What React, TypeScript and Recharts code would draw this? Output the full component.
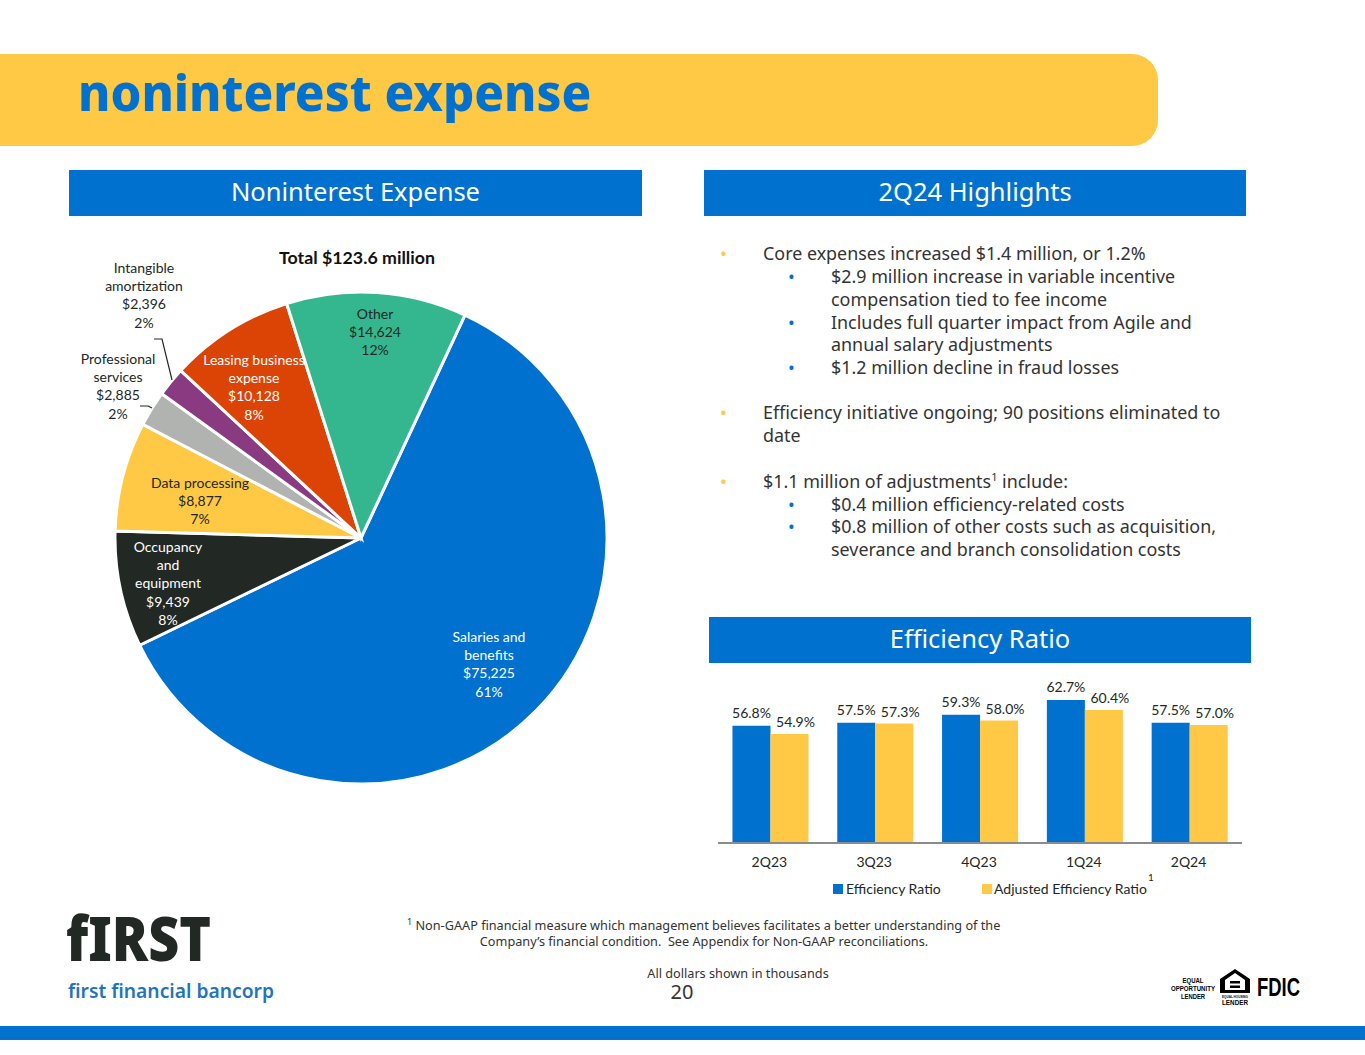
import { BarChart, Bar, XAxis, YAxis, Legend, LabelList, PieChart, Pie, Cell } from 'recharts';

const BLUE = '#0071ce';
const GOLD = '#ffc845';
const INK = '#222823';
const HEAD_FONT = '"Noto Sans", sans-serif';
const CHART_FONT = 'Lato, sans-serif';

// pie data, clockwise from the top right
const expenseNames = [
  'Salaries and\nbenefits',
  'Occupancy\nand\nequipment',
  'Data processing',
  'Professional\nservices',
  'Intangible\namortization',
  'Leasing business\nexpense',
  'Other',
];
const expenseValues = [75225, 9439, 8877, 2885, 2396, 10128, 14624];
const expenseColors = [BLUE, INK, GOLD, '#b1b3b1', '#8a3a80', '#dc4405', '#34b78f'];
const expenseTextColors = ['#fff', '#fff', INK, INK, INK, '#fff', INK];

// where each label block sits, relative to the pie centre
const labelSpots = [
  [128, 98], [-193, 8], [-161, -56], [-243, -180], [-217, -271], [-107, -179], [14, -225],
];
const leaderLines: Record<number, number[][]> = {
  3: [[-221, -132], [-213, -132], [-209, -130]],
  4: [[-207, -199], [-199, -199], [-189, -158]],
};

// bar data
const quarters = ['2Q23', '3Q23', '4Q23', '1Q24', '2Q24'];
const efficiencyRatio = [56.8, 57.5, 59.3, 62.7, 57.5];
const adjustedRatio = [54.9, 57.3, 58.0, 60.4, 57.0];

const pieData = expenseNames.map((name, i) => ({ name, value: expenseValues[i] }));
const barData = quarters.map((quarter, i) => ({
  quarter,
  efficiency: efficiencyRatio[i],
  adjusted: adjustedRatio[i],
}));
const expenseTotal = expenseValues.reduce((a, b) => a + b, 0);

// text of the highlights panel: level 0 = gold bullet, 1 = blue bullet, 2 = continuation
const highlights: [number, string, number][] = [
  [0, 'Core expenses increased $1.4 million, or 1.2%', 253],
  [1, '$2.9 million increase in variable incentive', 276],
  [2, 'compensation tied to fee income', 299],
  [1, 'Includes full quarter impact from Agile and', 322],
  [2, 'annual salary adjustments', 344],
  [1, '$1.2 million decline in fraud losses', 367],
  [0, 'Efficiency initiative ongoing; 90 positions eliminated to', 412],
  [3, 'date', 435],
  [0, 'SUP', 481],
  [1, '$0.4 million efficiency-related costs', 504],
  [1, '$0.8 million of other costs such as acquisition,', 526],
  [2, 'severance and branch consolidation costs', 549],
];

const PieLabel = (props: any) => {
  const { cx, cy, index } = props;
  const [dx, dy] = labelSpots[index];
  const value = expenseValues[index];
  const lines = [
    ...expenseNames[index].split('\n'),
    '$' + value.toLocaleString('en-US'),
    Math.round((value / expenseTotal) * 100) + '%',
  ];
  const leader = leaderLines[index];
  return (
    <g>
      {leader && (
        <polyline
          points={leader.map(([x, y]) => `${cx + x},${cy + y}`).join(' ')}
          fill="none"
          stroke={INK}
          strokeWidth={1.2}
        />
      )}
      <text x={cx + dx} y={cy + dy} textAnchor="middle" fontFamily={CHART_FONT} fontSize={14} fill={expenseTextColors[index]}>
        {lines.map((line, i) => (
          <tspan key={i} x={cx + dx} y={cy + dy + i * 18.45} dominantBaseline="central">
            {line}
          </tspan>
        ))}
      </text>
    </g>
  );
};

const BarLegend = () => (
  <div style={{ fontFamily: CHART_FONT, fontSize: 14, color: INK, position: 'relative', height: 27 }}>
    <span style={{ position: 'absolute', left: 115, top: 11, width: 10, height: 10, background: BLUE }} />
    <span style={{ position: 'absolute', left: 128, top: 7 }}>Efficiency Ratio</span>
    <span style={{ position: 'absolute', left: 264, top: 11, width: 10, height: 10, background: GOLD }} />
    <span style={{ position: 'absolute', left: 276, top: 7 }}>Adjusted Efficiency Ratio</span>
    <span style={{ position: 'absolute', left: 430, top: -2, fontSize: 10 }}>1</span>
  </div>
);

const SectionHeader = ({ label, left, top, width }: { label: string; left: number; top: number; width: number }) => (
  <div
    style={{
      position: 'absolute', left, top, width, height: 46, lineHeight: '43px', background: BLUE, color: '#fff',
      textAlign: 'center', fontFamily: HEAD_FONT, fontSize: 25.5,
    }}
  >
    {label}
  </div>
);

const Line = ({ x, y, size, children, color = INK, center, weight }: any) => {
  const h = Math.round(size * 1.1);
  return (
    <div
      style={{
        position: 'absolute', left: center ? x - 400 : x, width: center ? 800 : undefined, top: y - h / 2, height: h,
        lineHeight: h + 'px', whiteSpace: 'pre', textAlign: center ? 'center' : 'left',
        fontFamily: HEAD_FONT, fontSize: size, color, fontWeight: weight,
      }}
    >
      {children}
    </div>
  );
};

export default function App() {
  return (
    <div style={{ position: 'absolute', left: 0, top: 0, width: 1365, height: 1055, overflow: 'hidden', background: '#fff' }}>
      {/* title band */}
      <div style={{ position: 'absolute', left: 0, top: 54, width: 1158, height: 92, background: GOLD, borderRadius: '0 26px 26px 0' }} />
      <div
        style={{
          position: 'absolute', left: 78, top: 52, height: 80, lineHeight: '80px', whiteSpace: 'nowrap',
          fontFamily: HEAD_FONT, fontWeight: 800, fontSize: 49.2, color: BLUE,
        }}
      >
        noninterest expense
      </div>

      <SectionHeader label="Noninterest Expense" left={69} top={170} width={573} />
      <SectionHeader label="2Q24 Highlights" left={704} top={170} width={542} />
      <SectionHeader label="Efficiency Ratio" left={709} top={617} width={542} />

      {/* pie */}
      <div style={{ position: 'absolute', left: 0, top: 230 }}>
        <PieChart width={700} height={600} margin={{ top: 0, right: 0, bottom: 0, left: 0 }}>
          <Pie
            data={pieData}
            dataKey="value"
            nameKey="name"
            cx={361}
            cy={308}
            innerRadius={0}
            outerRadius={246}
            startAngle={65}
            endAngle={-295}
            stroke="#fff"
            strokeWidth={3}
            label={PieLabel}
            labelLine={false}
            isAnimationActive={false}
          >
            {pieData.map((entry, i) => (
              <Cell key={entry.name} fill={expenseColors[i]} />
            ))}
          </Pie>
        </PieChart>
      </div>
      <div
        style={{
          position: 'absolute', left: 207, width: 300, top: 246, textAlign: 'center',
          fontFamily: CHART_FONT, fontWeight: 700, fontSize: 17.8, color: '#111',
        }}
      >
        Total $123.6 million
      </div>

      {/* highlights */}
      {highlights.map(([level, text, y], i) => {
        const textX = level === 0 || level === 3 ? 763 : 831;
        return (
          <div key={i}>
            {level === 0 && <Line x={720} y={y} size={18} color={GOLD}>•</Line>}
            {level === 1 && <Line x={788} y={y} size={18} color={BLUE}>•</Line>}
            <Line x={textX} y={y} size={17.9} color="#333">
              {text === 'SUP' ? (
                <>$1.1 million of adjustments<sup style={{ fontSize: 11, lineHeight: 0 }}>1</sup> include:</>
              ) : (
                text
              )}
            </Line>
          </div>
        );
      })}

      {/* bars */}
      <div style={{ position: 'absolute', left: 700, top: 660 }}>
        <BarChart
          width={560}
          height={240}
          data={barData}
          margin={{ top: 8, right: 18, bottom: 0, left: 18 }}
          barCategoryGap="13.8%"
          barGap={0}
        >
          <XAxis
            dataKey="quarter"
            height={30}
            tickLine={false}
            axisLine={{ stroke: '#8c8c8c', strokeWidth: 2 }}
            tick={{ fontFamily: CHART_FONT, fontSize: 14, fill: INK, dx: -1 }}
            tickMargin={8}
          />
          <YAxis hide domain={[30, 70]} />
          <Legend content={BarLegend} height={27} verticalAlign="bottom" />
          <Bar dataKey="efficiency" name="Efficiency Ratio" fill={BLUE} isAnimationActive={false}>
            <LabelList
              dataKey="efficiency"
              position="top"
              offset={8}
              formatter={(v: number) => v.toFixed(1) + '%'}
              style={{ fontFamily: CHART_FONT, fontSize: 14, fill: INK }}
            />
          </Bar>
          <Bar dataKey="adjusted" name="Adjusted Efficiency Ratio" fill={GOLD} isAnimationActive={false}>
            <LabelList
              dataKey="adjusted"
              position="top"
              offset={7}
              dx={6}
              formatter={(v: number) => v.toFixed(1) + '%'}
              style={{ fontFamily: CHART_FONT, fontSize: 14, fill: INK }}
            />
          </Bar>
        </BarChart>
      </div>

      {/* footnotes */}
      <Line x={407} y={925} size={12.7} color="#333">
        <sup style={{ fontSize: 9, lineHeight: 0 }}>1</sup> Non-GAAP financial measure which management believes facilitates a better understanding of the
      </Line>
      <Line x={704} y={941} size={12.7} color="#333" center>
        Company’s financial condition.  See Appendix for Non-GAAP reconciliations.
      </Line>
      <Line x={738} y={973} size={12.7} color="#333" center>All dollars shown in thousands</Line>
      <Line x={682} y={992} size={20} color="#333" center>20</Line>

      {/* logos */}
      <svg style={{ position: 'absolute', left: 60, top: 885 }} width={300} height={125}>
        <text x={6} y={76} fontFamily={HEAD_FONT} fontWeight={900} fontSize={62} fill={INK} textLength={145} lengthAdjust="spacingAndGlyphs">
          fIRST
        </text>
        <text x={8} y={113} fontFamily={HEAD_FONT} fontWeight={600} fontSize={20} fill="#1f75bc" textLength={206} lengthAdjust="spacingAndGlyphs">
          first financial bancorp
        </text>
      </svg>
      <svg style={{ position: 'absolute', left: 1160, top: 960 }} width={200} height={50}>
        <g fontFamily='"Liberation Sans", sans-serif' fontWeight={700} fontSize={7} fill="#000" textAnchor="middle">
          <text x={33} y={23} textLength={21} lengthAdjust="spacingAndGlyphs">EQUAL</text>
          <text x={33} y={31} textLength={44} lengthAdjust="spacingAndGlyphs">OPPORTUNITY</text>
          <text x={33} y={39} textLength={24} lengthAdjust="spacingAndGlyphs">LENDER</text>
          <text x={75} y={37.5} fontSize={4} textLength={26} lengthAdjust="spacingAndGlyphs">EQUAL HOUSING</text>
          <text x={75} y={45} fontSize={8} textLength={26} lengthAdjust="spacingAndGlyphs">LENDER</text>
        </g>
        <path d="M75 9 L90 19 L90 33 L60 33 L60 19 Z M65 20 L65 30 L85 30 L85 20 L75 13 Z" fill="#000" fillRule="evenodd" />
        <rect x={70} y={21} width={10} height={2.5} fill="#000" />
        <rect x={70} y={25.5} width={10} height={2.5} fill="#000" />
        <text x={97} y={36} fontFamily='"Liberation Sans", sans-serif' fontWeight={700} fontSize={25} fill="#000" textLength={43} lengthAdjust="spacingAndGlyphs">
          FDIC
        </text>
      </svg>

      {/* bottom rule */}
      <div style={{ position: 'absolute', left: 0, top: 1026, width: 1365, height: 14, background: BLUE }} />
    </div>
  );
}
